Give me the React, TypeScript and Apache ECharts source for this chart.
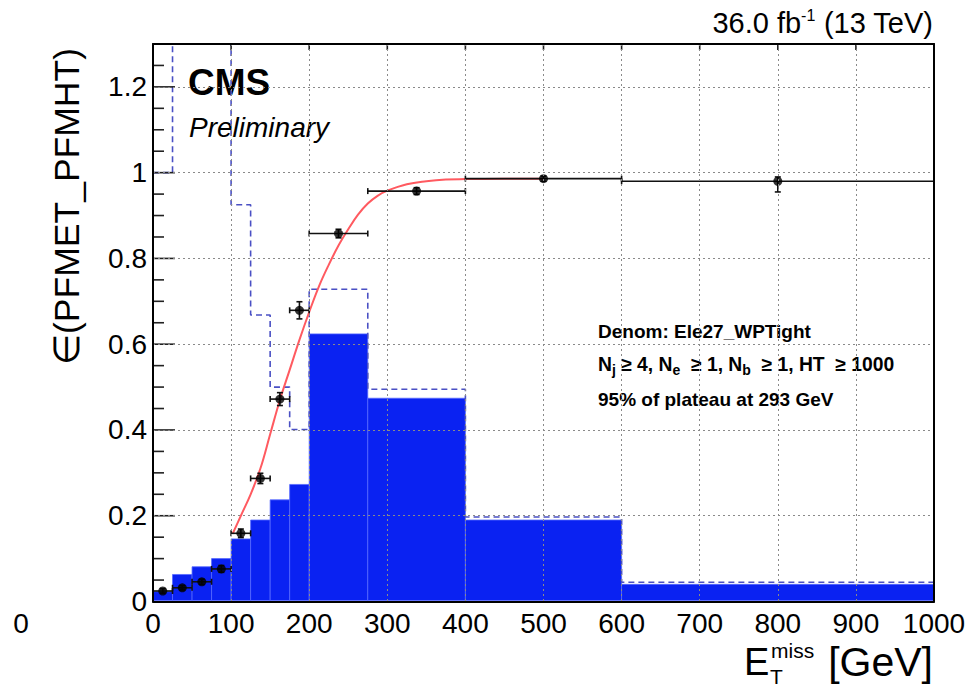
import React, { useEffect, useRef } from "react";
import * as echarts from "echarts";

// Binning of the missing-ET histograms (GeV)
const binEdges = [0, 25, 50, 75, 100, 125, 150, 175, 200, 275, 400, 600, 1000];
// Denominator-selected distribution (normalised), drawn filled
const denomShape = [0.023, 0.063, 0.081, 0.1, 0.146, 0.19, 0.237, 0.273, 0.624, 0.474, 0.19, 0.04];
// Numerator-selected distribution (normalised), drawn dashed; low bins run off scale
const numerShape = [1.0, 1.6, 1.55, 1.45, 0.925, 0.668, 0.5, 0.401, 0.728, 0.495, 0.197, 0.045];

// Trigger efficiency per bin
const effX = [12.5, 37.5, 62.5, 87.5, 112.5, 137.5, 162.5, 187.5, 237.5, 337.5, 500, 800];
const effY = [0.0245, 0.032, 0.046, 0.076, 0.159, 0.287, 0.472, 0.679, 0.858, 0.957, 0.986, 0.98];
const effErrLow = [0.005, 0.005, 0.006, 0.008, 0.01, 0.012, 0.015, 0.02, 0.01, 0.008, 0.006, 0.025];
const effErrHigh = [0.005, 0.005, 0.006, 0.008, 0.01, 0.012, 0.015, 0.02, 0.01, 0.008, 0.006, 0.01];

// Fitted turn-on curve, sampled
const fitX = [102, 112.5, 125, 137.5, 150, 162.5, 175, 187.5, 200, 212.5, 225, 237.5, 250, 262.5, 275, 287.5, 300, 325, 350, 375, 400, 450, 500];
const fitY = [0.158, 0.2, 0.25, 0.31, 0.39, 0.47, 0.54, 0.61, 0.675, 0.735, 0.785, 0.83, 0.868, 0.902, 0.928, 0.946, 0.958, 0.973, 0.98, 0.984, 0.985, 0.986, 0.986];

// Frame tick positions
const xMajorTicks = [100, 200, 300, 400, 500, 600, 700, 800, 900];
const yMajorTicks = [0.2, 0.4, 0.6, 0.8, 1.0, 1.2];
const yMinorTicks = [0.05, 0.1, 0.15, 0.25, 0.3, 0.35, 0.45, 0.5, 0.55, 0.65, 0.7, 0.75, 0.85, 0.9, 0.95, 1.05, 1.1, 1.15, 1.25];

const X_MIN = 0;
const X_MAX = 1000;
const X_STEP = 100;
const Y_MIN = 0;
const Y_MAX = 1.3;
const Y_STEP = 0.2;

const FONT = '"Liberation Sans", Helvetica, Arial, sans-serif';
const BLACK = "#000";

export default function App() {
  const ref = useRef<HTMLDivElement>(null);

  useEffect(() => {
    if (!ref.current) return;
    const chart = echarts.init(ref.current, null, { renderer: "svg" });

    const barData = denomShape.map((v, i) => [binEdges[i], binEdges[i + 1], v]);

    const stepData: number[][] = [];
    numerShape.forEach((v, i) => {
      stepData.push([binEdges[i], v]);
      stepData.push([binEdges[i + 1], v]);
    });

    const errData = effX.map((x, i) => {
      const lo = binEdges[i];
      const hi = binEdges[i + 1];
      return [x, effY[i], lo, hi, effY[i] - effErrLow[i], effY[i] + effErrHigh[i]];
    });

    const gridLine = () => ({ show: true, lineStyle: { color: "#8a8a8a", type: [2, 3] as any, width: 1 } });
    const frameLine = () => ({ show: true, onZero: false, lineStyle: { color: BLACK, width: 2 } });

    const option: any = {
      animation: false,
      backgroundColor: "#fff",
      grid: { left: 153, right: 42, top: 44, bottom: 88.5 },
      xAxis: [
        {
          type: "value",
          min: X_MIN,
          max: X_MAX,
          interval: X_STEP,
          position: "bottom",
          axisLine: frameLine(),
          axisTick: { show: false },
          axisLabel: {
            fontSize: 28,
            fontFamily: FONT,
            color: BLACK,
            margin: 8,
            formatter: (v: number) => String(v),
          },
          splitLine: gridLine(),
          z: 10,
        },
        {
          type: "value",
          min: X_MIN,
          max: X_MAX,
          interval: X_STEP,
          position: "top",
          axisLine: frameLine(),
          axisTick: { show: false },
          axisLabel: { show: false },
          splitLine: { show: false },
          z: 10,
        },
      ],
      yAxis: [
        {
          type: "value",
          min: Y_MIN,
          max: Y_MAX,
          interval: Y_STEP,
          position: "left",
          axisLine: frameLine(),
          axisTick: { show: false },
          axisLabel: {
            fontSize: 28,
            fontFamily: FONT,
            color: BLACK,
            margin: 6,
            showMaxLabel: false,
            formatter: (v: number) => String(Math.round(v * 10) / 10),
          },
          splitLine: gridLine(),
          z: 10,
        },
        {
          type: "value",
          min: Y_MIN,
          max: Y_MAX,
          interval: Y_STEP,
          position: "right",
          axisLine: frameLine(),
          axisTick: { show: false },
          axisLabel: { show: false },
          splitLine: { show: false },
          z: 10,
        },
      ],
      series: [
        {
          name: "denominator",
          type: "custom",
          xAxisIndex: 0,
          yAxisIndex: 0,
          z: 1,
          clip: true,
          data: barData,
          encode: { x: [0, 1], y: 2 },
          renderItem: (params: any, api: any) => {
            const p0 = api.coord([api.value(0), 0]);
            const p1 = api.coord([api.value(1), api.value(2)]);
            return {
              type: "rect",
              shape: { x: p0[0], y: p1[1], width: p1[0] - p0[0], height: p0[1] - p1[1] - 1 },
              style: { fill: "#0a22f2", stroke: "#5568ff", lineWidth: 0.8 },
            };
          },
        },
        {
          name: "numerator",
          type: "line",
          xAxisIndex: 0,
          yAxisIndex: 0,
          z: 2,
          data: stepData,
          symbol: "none",
          clip: true,
          lineStyle: { color: "#4a50c4", width: 1.6, type: [6, 4] },
        },
        {
          name: "fit",
          type: "line",
          xAxisIndex: 0,
          yAxisIndex: 0,
          z: 3,
          data: fitX.map((x, i) => [x, fitY[i]]),
          smooth: 0.4,
          symbol: "none",
          lineStyle: { color: "#ff5a60", width: 2 },
        },
        {
          name: "errors",
          type: "custom",
          xAxisIndex: 0,
          yAxisIndex: 0,
          z: 4,
          data: errData,
          encode: { x: 0, y: 1 },
          renderItem: (params: any, api: any) => {
            const y = api.value(1);
            const left = api.coord([api.value(2), y]);
            const right = api.coord([api.value(3), y]);
            const lo = api.coord([api.value(0), api.value(4)]);
            const hi = api.coord([api.value(0), api.value(5)]);
            const st = { stroke: "#111", lineWidth: 1.6 };
            const cap = 3;
            const children: any[] = [
              { type: "line", shape: { x1: left[0], y1: left[1], x2: right[0], y2: right[1] }, style: st },
              { type: "line", shape: { x1: left[0], y1: left[1] - cap, x2: left[0], y2: left[1] + cap }, style: st },
              { type: "line", shape: { x1: right[0], y1: right[1] - cap, x2: right[0], y2: right[1] + cap }, style: st },
              { type: "line", shape: { x1: lo[0], y1: lo[1], x2: hi[0], y2: hi[1] }, style: st },
              { type: "line", shape: { x1: lo[0] - cap, y1: lo[1], x2: lo[0] + cap, y2: lo[1] }, style: st },
              { type: "line", shape: { x1: hi[0] - cap, y1: hi[1], x2: hi[0] + cap, y2: hi[1] }, style: st },
            ];
            // the frame's inward ticks ride along with the first item
            if (params.dataIndex === 0) {
              const tk = { stroke: "#222", lineWidth: 1.6 };
              yMajorTicks.forEach((v) => {
                const p = api.coord([X_MIN, v]);
                children.push({ type: "line", shape: { x1: p[0], y1: p[1], x2: p[0] + 22, y2: p[1] }, style: tk });
              });
              yMinorTicks.forEach((v) => {
                const p = api.coord([X_MIN, v]);
                children.push({ type: "line", shape: { x1: p[0], y1: p[1], x2: p[0] + 11, y2: p[1] }, style: tk });
              });
              xMajorTicks.forEach((v) => {
                const p = api.coord([v, Y_MAX]);
                children.push({ type: "line", shape: { x1: p[0], y1: p[1], x2: p[0], y2: p[1] + 6 }, style: tk });
              });
            }
            return { type: "group", children };
          },
        },
        {
          name: "efficiency",
          type: "scatter",
          xAxisIndex: 0,
          yAxisIndex: 0,
          z: 5,
          data: effX.map((x, i) => [x, effY[i]]),
          symbol: "circle",
          symbolSize: 9,
          itemStyle: { color: BLACK },
        },
      ],
      graphic: [
        {
          type: "text",
          x: 933,
          y: 22.5,
          style: {
            text: "{n|36.0 fb}{s|-1}{n| (13 TeV)}",
            align: "right",
            verticalAlign: "middle",
            fill: BLACK,
            rich: {
              n: { fontSize: 29, fontFamily: FONT, lineHeight: 30, verticalAlign: "bottom", fill: BLACK },
              s: { fontSize: 16, fontFamily: FONT, lineHeight: 17, verticalAlign: "top", fill: BLACK },
            },
          },
        },
        {
          type: "text",
          x: 188,
          y: 82,
          style: { text: "CMS", fontSize: 37, fontWeight: "bold", fontFamily: FONT, fill: BLACK, align: "left", verticalAlign: "middle" },
        },
        {
          type: "text",
          x: 189,
          y: 127,
          style: { text: "Preliminary", fontSize: 28, fontStyle: "italic", fontFamily: FONT, fill: BLACK, align: "left", verticalAlign: "middle" },
        },
        {
          type: "text",
          x: 598,
          y: 331,
          style: { text: "Denom: Ele27_WPTight", fontSize: 19, fontWeight: "bold", fontFamily: FONT, fill: BLACK, align: "left", verticalAlign: "middle" },
        },
        {
          type: "text",
          x: 598,
          y: 355,
          style: {
            text: "{n|N}{s|j}{n| \u2265 4, N}{s|e}{n|  \u2265 1, N}{s|b}{n|  \u2265 1, HT  \u2265 1000}",
            align: "left",
            verticalAlign: "top",
            fill: BLACK,
            rich: {
              n: { fontSize: 19.3, fontWeight: "bold", fontFamily: FONT, lineHeight: 22, verticalAlign: "top", fill: BLACK },
              s: { fontSize: 14, fontWeight: "bold", fontFamily: FONT, lineHeight: 14, verticalAlign: "bottom", padding: [14, 0, 0, 0], fill: BLACK },
            },
          },
        },
        {
          type: "text",
          x: 598,
          y: 399,
          style: { text: "95% of plateau at 293 GeV", fontSize: 19, fontWeight: "bold", fontFamily: FONT, fill: BLACK, align: "left", verticalAlign: "middle" },
        },
        {
          type: "text",
          x: 66.5,
          y: 206.5,
          rotation: Math.PI / 2,
          style: { text: "\u2208(PFMET_PFMHT)", fontSize: 35.5, fontFamily: FONT, fill: BLACK, align: "center", verticalAlign: "middle" },
        },
        {
          type: "text",
          x: 744,
          y: 662,
          style: { text: "E", fontSize: 38, fontFamily: FONT, fill: BLACK, align: "left", verticalAlign: "middle" },
        },
        {
          type: "text",
          x: 771,
          y: 650,
          style: { text: "miss", fontSize: 21, fontFamily: FONT, fill: BLACK, align: "left", verticalAlign: "middle" },
        },
        {
          type: "text",
          x: 770,
          y: 676,
          style: { text: "T", fontSize: 21, fontFamily: FONT, fill: BLACK, align: "left", verticalAlign: "middle" },
        },
        {
          type: "text",
          x: 933,
          y: 662,
          style: { text: "[GeV]", fontSize: 41, fontFamily: FONT, fill: BLACK, align: "right", verticalAlign: "middle" },
        },
        {
          type: "text",
          x: 21,
          y: 623,
          style: { text: "0", fontSize: 28, fontFamily: FONT, fill: BLACK, align: "center", verticalAlign: "middle" },
        },
      ],
    };

    chart.setOption(option);
    return () => chart.dispose();
  }, []);

  return (
    <div
      ref={ref}
      style={{ position: "absolute", left: 0, top: 0, width: 976, height: 690, background: "#fff" }}
    />
  );
}
